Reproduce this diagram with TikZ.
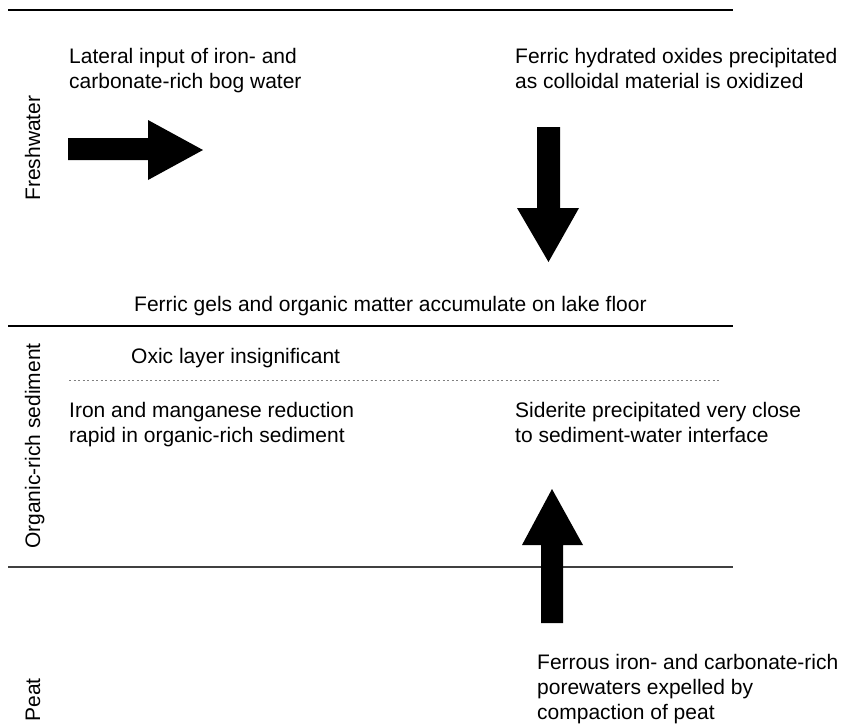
\documentclass[tikz,border=0pt]{standalone}
\usepackage{fontspec}
\setmainfont{Liberation Sans}
\newcommand\txtlines[1]{\begin{tabular}[t]{@{}l@{}}#1\end{tabular}}
\begin{document}
\begin{tikzpicture}[x=1pt,y=-1pt,
  lbl/.style={inner sep=0pt,anchor=base west,font=\fontsize{21}{25}\selectfont},
  side/.style={inner sep=0pt,anchor=base,rotate=90,font=\fontsize{21}{25}\selectfont},
  rule/.style={line width=1.2pt},
  blockarrow/.style={fill=black,draw=none}]
\useasboundingbox (0,0) rectangle (843,723);
% horizontal rules
\draw[rule] (8,10) -- (733,10);
\draw[rule] (8,326) -- (733,326);
\draw[rule,black!75] (8,567) -- (733,567);
\draw[line width=1pt,gray,dash pattern=on 2pt off 2.5pt] (69,380) -- (719,380);
% side labels
\node[side] (fw) at (40,148) {Freshwater};
\node[side] (ors) at (40,446) {Organic-rich sediment};
\node[side] (pt) at (40,700) {Peat};
% texts
\node[lbl] (t1) at (69,63) {\txtlines{Lateral input of iron- and\\carbonate-rich bog water}};
\node[lbl] (t2) at (515,63) {\txtlines{Ferric hydrated oxides precipitated\\as colloidal material is oxidized}};
\node[lbl] (t3) at (134,311) {Ferric gels and organic matter accumulate on lake floor};
\node[lbl] (t4) at (131,363) {Oxic layer insignificant};
\node[lbl] (t5) at (69,417) {\txtlines{Iron and manganese reduction\\rapid in organic-rich sediment}};
\node[lbl] (t6) at (515,417) {\txtlines{Siderite precipitated very close\\to sediment-water interface}};
\node[lbl] (t7) at (537,669) {\txtlines{Ferrous iron- and carbonate-rich\\porewaters expelled by\\compaction of peat}};
% block arrows
\fill[blockarrow] (68,138) -- (148,138) -- (148,120) -- (203,150) -- (148,180) -- (148,160) -- (68,160) -- cycle;
\fill[blockarrow] (537,127) -- (560,127) -- (560,208) -- (579,208) -- (548.5,262) -- (517,208) -- (537,208) -- cycle;
\fill[blockarrow] (541,623) -- (563,623) -- (563,545) -- (583,545) -- (552,489) -- (522,545) -- (541,545) -- cycle;
\end{tikzpicture}
\end{document}
